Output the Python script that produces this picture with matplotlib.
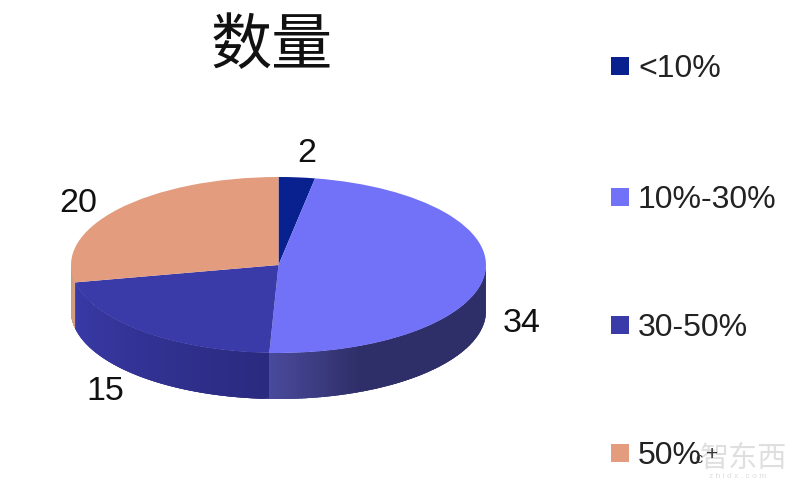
import numpy as np
import matplotlib
matplotlib.use("Agg")
import matplotlib.pyplot as plt
from matplotlib.colors import to_rgb
from matplotlib.patches import Rectangle

plt.rcParams['font.family'] = ['Liberation Sans', 'DejaVu Sans']

title = "数量"
categories = ["<10%", "10%-30%", "30-50%", "50%"]
values = [2, 34, 15, 20]
top_colors = ["#08218f", "#7272f8", "#3a3aa8", "#e39c7e"]
# side shading of each slice: colour at the start and at the end of its front rim
side_start = ["#08218f", "#2e2e68", "#2a2a80", "#d8a080"]
side_end = ["#08218f", "#4a4a9c", "#3a3aa8", "#c89a80"]
value_labels = ["2", "34", "15", "20"]
label_px = [(307, 153), (522, 323), (105, 392), (78, 203)]
legend_y_px = [66, 197, 325, 453]

W, H = 800, 497
fig = plt.figure(figsize=(W / 100, H / 100), dpi=100, facecolor="white")

# Overlay axes in pixel coordinates for text and legend
ov = fig.add_axes([0, 0, 1, 1], zorder=3)
ov.set_xlim(0, W)
ov.set_ylim(H, 0)
ov.axis("off")

# Pie axes: the unit circle is stretched into the ellipse of the disc
left, right, top, bottom = 71, 486, 177, 353
ax = fig.add_axes([left / W, 1 - bottom / H, (right - left) / W, (bottom - top) / H], zorder=2)
depth = 46 / ((bottom - top) / 2)

edges = np.cumsum([0] + values) / sum(values) * 2 * np.pi  # clockwise from 12 o'clock
for i in range(len(values)):
    a0, a1 = max(edges[i], np.pi / 2), min(edges[i + 1], 3 * np.pi / 2)
    if a1 <= a0:
        continue
    c0, c1 = np.array(to_rgb(side_start[i])), np.array(to_rgb(side_end[i]))
    ang = np.linspace(a0, a1, 90)
    order = range(len(ang) - 1)
    for j in order:
        t = (j + 0.5) / (len(ang) - 1)
        # colour runs from the right-hand end to the left-hand end of the rim
        if i == 1:
            t = 1 - max(0.0, (t - 0.72) / 0.28)  # light only next to the seam
            t = 1 - t
        col = c0 + (c1 - c0) * t
        # each strip overlaps the next so no seams show between them
        s = np.array([ang[j], min(ang[j + 1] + 0.03, a1)])
        xs = np.sin(s)
        ys = np.cos(s)
        ax.fill(np.r_[xs, xs[::-1]], np.r_[ys, ys[::-1] - depth],
                color=col, lw=0, clip_on=False, zorder=1)

ax.pie(values, colors=top_colors, startangle=90, counterclock=False, radius=1,
       wedgeprops={"linewidth": 0}, center=(0, 0), frame=False)
for p in ax.patches:
    p.set_zorder(2)
    p.set_clip_on(False)
ax.set_aspect("auto")
ax.set_xlim(-1, 1)
ax.set_ylim(-1, 1)
ax.axis("off")

ov.text(272, 47, title, family=["Noto Sans CJK SC", "DejaVu Sans"], fontsize=44,
        ha="center", va="center", color="#111111", fontweight="medium")

for s, (x, y) in zip(value_labels, label_px):
    ov.text(x, y, s, fontsize=24.5, ha="center", va="center", color="#111111")

for name, col, y in zip(categories, top_colors, legend_y_px):
    ov.add_patch(Rectangle((611, y - 9), 18, 18, facecolor=col, edgecolor="none"))
    ov.text(638, y + 3, name, fontsize=23, ha="left", va="center", color="#222222")

# Stray marks after the last legend entry and the faint watermark
ov.text(743, 459, "智东西", family=["Noto Sans CJK SC", "DejaVu Sans"], fontsize=21,
        ha="center", va="center", color="#d8d8d8", alpha=0.8, zorder=1)
ov.text(738, 477, "z h i d x . c o m", fontsize=6, ha="center", va="center", color="#dddddd")
ov.text(699, 459, "c", fontsize=10, ha="center", va="center", color="#333333")
ov.text(712, 454, "+", fontsize=15, ha="center", va="center", color="#333333")

fig.savefig("out.png", dpi=100, facecolor="white")
